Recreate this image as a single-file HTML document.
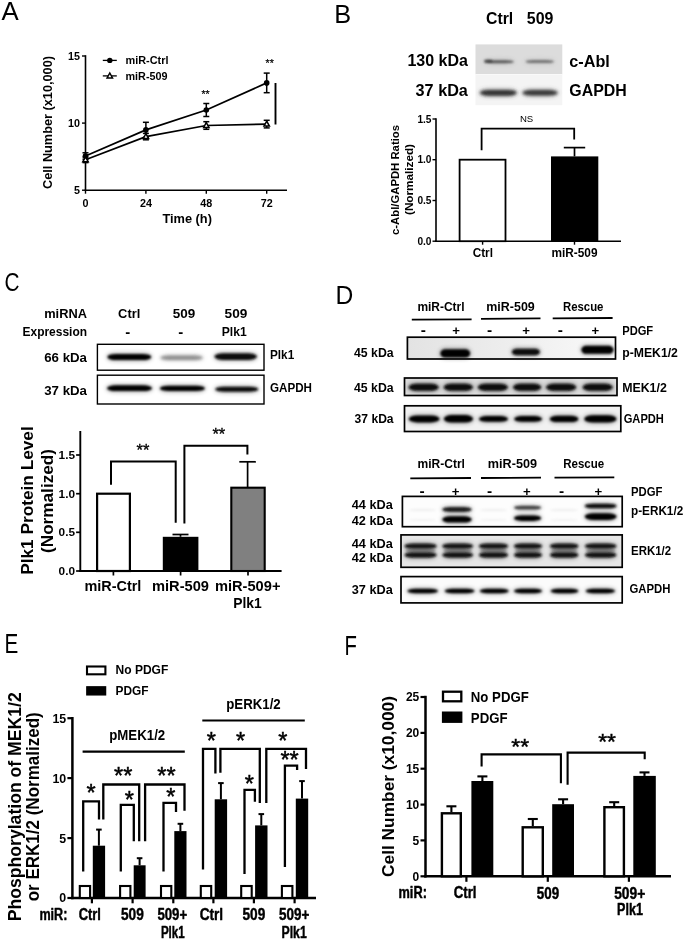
<!DOCTYPE html>
<html lang="en"><head><meta charset="utf-8"><title>Figure</title>
<style>
html,body{margin:0;padding:0;background:#fff;}
svg{display:block;font-family:"Liberation Sans",sans-serif;}
</style></head><body>
<svg width="685" height="939" viewBox="0 0 685 939">
<defs>
<filter id="b1" x="-20%" y="-80%" width="140%" height="260%"><feGaussianBlur stdDeviation="1.1"/></filter>
<filter id="b2" x="-20%" y="-80%" width="140%" height="260%"><feGaussianBlur stdDeviation="1.6"/></filter>
<filter id="b3" x="-20%" y="-120%" width="140%" height="340%"><feGaussianBlur stdDeviation="2.2"/></filter>
<linearGradient id="gD1" x1="0" x2="1" y1="0" y2="0"><stop offset="0" stop-color="#e3e3e3"/><stop offset="0.55" stop-color="#efefef"/><stop offset="1" stop-color="#fafafa"/></linearGradient>
<filter id="b0" x="-20%" y="-80%" width="140%" height="260%"><feGaussianBlur stdDeviation="0.7"/></filter>
</defs>
<rect x="0" y="0" width="685" height="939" fill="#fff"/>

<text x="1.6" y="20.3" font-size="26.5" font-weight="normal" textLength="17.2" lengthAdjust="spacingAndGlyphs">A</text>
<text x="334.3" y="22.7" font-size="26.5" font-weight="normal" textLength="16.9" lengthAdjust="spacingAndGlyphs">B</text>
<text x="4.6" y="291.0" font-size="25" font-weight="normal" textLength="15.0" lengthAdjust="spacingAndGlyphs">C</text>
<text x="335.6" y="303.8" font-size="25" font-weight="normal" textLength="17.8" lengthAdjust="spacingAndGlyphs">D</text>
<text x="4.4" y="653.4" font-size="27" font-weight="normal" textLength="13.8" lengthAdjust="spacingAndGlyphs">E</text>
<text x="344.6" y="654.8" font-size="27" font-weight="normal" textLength="12.4" lengthAdjust="spacingAndGlyphs">F</text>
<g id="panelA">
<line x1="85.5" y1="55.2" x2="85.5" y2="191.0" stroke="#000" stroke-width="1.6" stroke-linecap="butt"/>
<line x1="84.7" y1="190.2" x2="287.0" y2="190.2" stroke="#000" stroke-width="1.6" stroke-linecap="butt"/>
<line x1="82.0" y1="190.2" x2="85.5" y2="190.2" stroke="#000" stroke-width="1.4" stroke-linecap="butt"/>
<text x="80.0" y="193.9" text-anchor="end" font-size="10.76" font-weight="bold" fill="#000">5</text>
<line x1="82.0" y1="123.1" x2="85.5" y2="123.1" stroke="#000" stroke-width="1.4" stroke-linecap="butt"/>
<text x="80.0" y="126.8" text-anchor="end" font-size="10.76" font-weight="bold" fill="#000">10</text>
<line x1="82.0" y1="56.0" x2="85.5" y2="56.0" stroke="#000" stroke-width="1.4" stroke-linecap="butt"/>
<text x="80.0" y="59.7" text-anchor="end" font-size="10.76" font-weight="bold" fill="#000">15</text>
<line x1="85.5" y1="190.2" x2="85.5" y2="193.7" stroke="#000" stroke-width="1.4" stroke-linecap="butt"/>
<text x="85.5" y="206.7" text-anchor="middle" font-size="10.76" font-weight="bold" fill="#000">0</text>
<line x1="145.9" y1="190.2" x2="145.9" y2="193.7" stroke="#000" stroke-width="1.4" stroke-linecap="butt"/>
<text x="145.9" y="206.7" text-anchor="middle" font-size="10.76" font-weight="bold" fill="#000">24</text>
<line x1="206.3" y1="190.2" x2="206.3" y2="193.7" stroke="#000" stroke-width="1.4" stroke-linecap="butt"/>
<text x="206.3" y="206.7" text-anchor="middle" font-size="10.76" font-weight="bold" fill="#000">48</text>
<line x1="266.7" y1="190.2" x2="266.7" y2="193.7" stroke="#000" stroke-width="1.4" stroke-linecap="butt"/>
<text x="266.7" y="206.7" text-anchor="middle" font-size="10.76" font-weight="bold" fill="#000">72</text>
<text x="187.2" y="223.1" text-anchor="middle" font-size="13.06" font-weight="bold" fill="#000" textLength="49.5" lengthAdjust="spacingAndGlyphs">Time (h)</text>
<text transform="translate(52.0 122.5) rotate(-90)" text-anchor="middle" font-size="13.06" font-weight="bold" fill="#000" textLength="133.0" lengthAdjust="spacingAndGlyphs">Cell Number (x10,000)</text>
<polyline points="85.5,156.0 145.9,129.9 206.3,110.0 266.7,82.9" fill="none" stroke="#000" stroke-width="1.7" stroke-linejoin="miter"/>
<polyline points="85.5,159.8 145.9,136.6 206.3,125.5 266.7,124.1" fill="none" stroke="#000" stroke-width="1.7" stroke-linejoin="miter"/>
<line x1="85.5" y1="159.2" x2="85.5" y2="152.8" stroke="#000" stroke-width="1.5" stroke-linecap="butt"/>
<line x1="82.5" y1="152.8" x2="88.5" y2="152.8" stroke="#000" stroke-width="1.5" stroke-linecap="butt"/>
<line x1="82.5" y1="159.2" x2="88.5" y2="159.2" stroke="#000" stroke-width="1.5" stroke-linecap="butt"/>
<line x1="145.9" y1="137.5" x2="145.9" y2="122.3" stroke="#000" stroke-width="1.5" stroke-linecap="butt"/>
<line x1="142.9" y1="122.3" x2="148.9" y2="122.3" stroke="#000" stroke-width="1.5" stroke-linecap="butt"/>
<line x1="142.9" y1="137.5" x2="148.9" y2="137.5" stroke="#000" stroke-width="1.5" stroke-linecap="butt"/>
<line x1="206.3" y1="116.5" x2="206.3" y2="103.5" stroke="#000" stroke-width="1.5" stroke-linecap="butt"/>
<line x1="203.3" y1="103.5" x2="209.3" y2="103.5" stroke="#000" stroke-width="1.5" stroke-linecap="butt"/>
<line x1="203.3" y1="116.5" x2="209.3" y2="116.5" stroke="#000" stroke-width="1.5" stroke-linecap="butt"/>
<line x1="266.7" y1="92.7" x2="266.7" y2="73.1" stroke="#000" stroke-width="1.5" stroke-linecap="butt"/>
<line x1="263.7" y1="73.1" x2="269.7" y2="73.1" stroke="#000" stroke-width="1.5" stroke-linecap="butt"/>
<line x1="263.7" y1="92.7" x2="269.7" y2="92.7" stroke="#000" stroke-width="1.5" stroke-linecap="butt"/>
<line x1="85.5" y1="162.6" x2="85.5" y2="157.0" stroke="#000" stroke-width="1.5" stroke-linecap="butt"/>
<line x1="82.5" y1="157.0" x2="88.5" y2="157.0" stroke="#000" stroke-width="1.5" stroke-linecap="butt"/>
<line x1="82.5" y1="162.6" x2="88.5" y2="162.6" stroke="#000" stroke-width="1.5" stroke-linecap="butt"/>
<line x1="145.9" y1="139.8" x2="145.9" y2="133.4" stroke="#000" stroke-width="1.5" stroke-linecap="butt"/>
<line x1="142.9" y1="133.4" x2="148.9" y2="133.4" stroke="#000" stroke-width="1.5" stroke-linecap="butt"/>
<line x1="142.9" y1="139.8" x2="148.9" y2="139.8" stroke="#000" stroke-width="1.5" stroke-linecap="butt"/>
<line x1="206.3" y1="129.3" x2="206.3" y2="121.7" stroke="#000" stroke-width="1.5" stroke-linecap="butt"/>
<line x1="203.3" y1="121.7" x2="209.3" y2="121.7" stroke="#000" stroke-width="1.5" stroke-linecap="butt"/>
<line x1="203.3" y1="129.3" x2="209.3" y2="129.3" stroke="#000" stroke-width="1.5" stroke-linecap="butt"/>
<line x1="266.7" y1="127.9" x2="266.7" y2="120.3" stroke="#000" stroke-width="1.5" stroke-linecap="butt"/>
<line x1="263.7" y1="120.3" x2="269.7" y2="120.3" stroke="#000" stroke-width="1.5" stroke-linecap="butt"/>
<line x1="263.7" y1="127.9" x2="269.7" y2="127.9" stroke="#000" stroke-width="1.5" stroke-linecap="butt"/>
<circle cx="85.5" cy="156.0" r="2.8" fill="#000"/>
<circle cx="145.9" cy="129.9" r="2.8" fill="#000"/>
<circle cx="206.3" cy="110.0" r="2.8" fill="#000"/>
<circle cx="266.7" cy="82.9" r="2.8" fill="#000"/>
<polygon points="85.5,156.9 88.2,161.8 82.8,161.8" fill="#fff" stroke="#000" stroke-width="1.5" stroke-linejoin="miter"/>
<polygon points="145.9,133.7 148.6,138.6 143.2,138.6" fill="#fff" stroke="#000" stroke-width="1.5" stroke-linejoin="miter"/>
<polygon points="206.3,122.6 209.0,127.5 203.6,127.5" fill="#fff" stroke="#000" stroke-width="1.5" stroke-linejoin="miter"/>
<polygon points="266.7,121.2 269.4,126.1 264.0,126.1" fill="#fff" stroke="#000" stroke-width="1.5" stroke-linejoin="miter"/>
<line x1="275.5" y1="83.0" x2="275.5" y2="124.5" stroke="#000" stroke-width="1.9" stroke-linecap="butt"/>
<text x="205.5" y="98.0" text-anchor="middle" font-size="10.5" font-weight="normal" stroke="#000" stroke-width="0.21">**</text>
<text x="269.7" y="67.4" text-anchor="middle" font-size="10.5" font-weight="normal" stroke="#000" stroke-width="0.21">**</text>
<line x1="102.8" y1="60.4" x2="116.8" y2="60.4" stroke="#000" stroke-width="1.3" stroke-linecap="butt"/>
<circle cx="109.8" cy="60.4" r="2.7" fill="#000"/>
<text x="125.5" y="64.3" text-anchor="start" font-size="11.29" font-weight="bold" fill="#000" textLength="43.0" lengthAdjust="spacingAndGlyphs">miR-Ctrl</text>
<line x1="102.8" y1="75.9" x2="116.8" y2="75.9" stroke="#000" stroke-width="1.3" stroke-linecap="butt"/>
<polygon points="109.8,73.0 112.5,77.9 107.1,77.9" fill="#fff" stroke="#000" stroke-width="1.5"/>
<text x="125.5" y="79.8" text-anchor="start" font-size="11.29" font-weight="bold" fill="#000" textLength="42.0" lengthAdjust="spacingAndGlyphs">miR-509</text>
</g>
<g id="panelB">
<text x="486.0" y="23.7" text-anchor="start" font-size="16.2" font-weight="bold" fill="#000" textLength="27.2" lengthAdjust="spacingAndGlyphs">Ctrl</text>
<text x="526.8" y="23.7" text-anchor="start" font-size="16.2" font-weight="bold" fill="#000" textLength="26.6" lengthAdjust="spacingAndGlyphs">509</text>
<text x="467.9" y="66.0" text-anchor="end" font-size="16.2" font-weight="bold" fill="#000" textLength="60.5" lengthAdjust="spacingAndGlyphs">130 kDa</text>
<text x="467.9" y="96.1" text-anchor="end" font-size="16.2" font-weight="bold" fill="#000" textLength="52.3" lengthAdjust="spacingAndGlyphs">37 kDa</text>
<text x="569.3" y="66.6" text-anchor="start" font-size="16.2" font-weight="bold" fill="#000" textLength="40.5" lengthAdjust="spacingAndGlyphs">c-Abl</text>
<text x="569.3" y="95.6" text-anchor="start" font-size="16.2" font-weight="bold" fill="#000" textLength="57.5" lengthAdjust="spacingAndGlyphs">GAPDH</text>
<rect x="475.5" y="44.4" width="86.8" height="29.8" fill="#dcdcdc" stroke="none" stroke-width="0"/>
<rect x="475.5" y="74.2" width="86.8" height="31.0" fill="#f4f4f4" stroke="none" stroke-width="0"/>
<line x1="475.5" y1="74.6" x2="562.3" y2="74.6" stroke="#fbfbfb" stroke-width="0.9" stroke-linecap="butt"/>
<rect x="483.4" y="58.8" width="31.6" height="5.8" rx="9.2" ry="2.9" fill="#4a4a4a" opacity="0.17" filter="url(#b3)"/>
<rect x="484.6" y="60.2" width="29.2" height="3.0" rx="8.2" ry="1.5" fill="#4a4a4a" opacity="0.85" filter="url(#b1)"/>
<rect x="484.0" y="59.4" width="8.5" height="3.2" rx="2.4" ry="1.6" fill="#222" opacity="0.6" filter="url(#b1)"/>
<rect x="524.3" y="58.7" width="30.9" height="5.8" rx="9.0" ry="2.9" fill="#666" opacity="0.17" filter="url(#b3)"/>
<rect x="525.5" y="60.1" width="28.5" height="3.0" rx="8.0" ry="1.5" fill="#666" opacity="0.85" filter="url(#b1)"/>
<rect x="478.8" y="88.5" width="39.1" height="8.6" rx="10.0" ry="4.3" fill="#2a2a2a" opacity="0.28" filter="url(#b3)"/>
<rect x="480.0" y="89.9" width="36.7" height="5.8" rx="9.0" ry="2.9" fill="#2a2a2a" opacity="0.95" filter="url(#b2)"/>
<rect x="521.3" y="88.7" width="37.5" height="8.2" rx="10.0" ry="4.1" fill="#333" opacity="0.28" filter="url(#b3)"/>
<rect x="522.5" y="90.1" width="35.1" height="5.4" rx="9.0" ry="2.7" fill="#333" opacity="0.95" filter="url(#b2)"/>
<line x1="436.0" y1="118.2" x2="436.0" y2="242.0" stroke="#000" stroke-width="1.6" stroke-linecap="butt"/>
<line x1="435.2" y1="241.2" x2="621.0" y2="241.2" stroke="#000" stroke-width="1.6" stroke-linecap="butt"/>
<line x1="432.5" y1="241.2" x2="436.0" y2="241.2" stroke="#000" stroke-width="1.4" stroke-linecap="butt"/>
<text x="431.5" y="244.7" text-anchor="end" font-size="10.14" font-weight="bold" fill="#000">0.0</text>
<line x1="432.5" y1="200.5" x2="436.0" y2="200.5" stroke="#000" stroke-width="1.4" stroke-linecap="butt"/>
<text x="431.5" y="204.0" text-anchor="end" font-size="10.14" font-weight="bold" fill="#000">0.5</text>
<line x1="432.5" y1="159.7" x2="436.0" y2="159.7" stroke="#000" stroke-width="1.4" stroke-linecap="butt"/>
<text x="431.5" y="163.2" text-anchor="end" font-size="10.14" font-weight="bold" fill="#000">1.0</text>
<line x1="432.5" y1="119.0" x2="436.0" y2="119.0" stroke="#000" stroke-width="1.4" stroke-linecap="butt"/>
<text x="431.5" y="122.5" text-anchor="end" font-size="10.14" font-weight="bold" fill="#000">1.5</text>
<rect x="459.6" y="159.7" width="45.9" height="81.5" fill="#fff" stroke="#000" stroke-width="1.8"/>
<rect x="551.0" y="156.4" width="47.3" height="84.8" fill="#000" stroke="none" stroke-width="0"/>
<line x1="574.5" y1="156.4" x2="574.5" y2="147.6" stroke="#000" stroke-width="1.7" stroke-linecap="butt"/>
<line x1="563.8" y1="147.6" x2="585.2" y2="147.6" stroke="#000" stroke-width="1.7" stroke-linecap="butt"/>
<line x1="482.6" y1="241.2" x2="482.6" y2="244.7" stroke="#000" stroke-width="1.4" stroke-linecap="butt"/>
<line x1="574.5" y1="241.2" x2="574.5" y2="244.7" stroke="#000" stroke-width="1.4" stroke-linecap="butt"/>
<polyline points="481.6,150.2 481.6,128.6 574.2,128.6 574.2,139.4" fill="none" stroke="#000" stroke-width="1.8" stroke-linejoin="miter"/>
<text x="526.6" y="122.3" text-anchor="middle" font-size="9.61" font-weight="normal" fill="#000">NS</text>
<text x="482.8" y="256.5" text-anchor="middle" font-size="12.02" font-weight="bold" fill="#000" textLength="20.3" lengthAdjust="spacingAndGlyphs">Ctrl</text>
<text x="574.5" y="256.5" text-anchor="middle" font-size="12.02" font-weight="bold" fill="#000" textLength="46.0" lengthAdjust="spacingAndGlyphs">miR-509</text>
<text transform="translate(399.3 180.0) rotate(-90)" text-anchor="middle" font-size="11.81" font-weight="bold" fill="#000" textLength="110.0" lengthAdjust="spacingAndGlyphs">c-Abl/GAPDH Ratios</text>
<text transform="translate(413.3 179.5) rotate(-90)" text-anchor="middle" font-size="11.81" font-weight="bold" fill="#000" textLength="71.0" lengthAdjust="spacingAndGlyphs">(Normalized)</text>
</g>
<g id="panelC">
<text x="87.0" y="317.5" text-anchor="end" font-size="12.85" font-weight="bold" fill="#000" textLength="42.8" lengthAdjust="spacingAndGlyphs">miRNA</text>
<text x="87.0" y="335.9" text-anchor="end" font-size="12.85" font-weight="bold" fill="#000" textLength="64.5" lengthAdjust="spacingAndGlyphs">Expression</text>
<text x="129.2" y="317.5" text-anchor="middle" font-size="12.85" font-weight="bold" fill="#000" textLength="22.2" lengthAdjust="spacingAndGlyphs">Ctrl</text>
<text x="184.0" y="317.5" text-anchor="middle" font-size="12.85" font-weight="bold" fill="#000" textLength="22.5" lengthAdjust="spacingAndGlyphs">509</text>
<text x="236.0" y="317.5" text-anchor="middle" font-size="12.85" font-weight="bold" fill="#000" textLength="22.8" lengthAdjust="spacingAndGlyphs">509</text>
<text x="127.8" y="336.8" text-anchor="middle" font-size="15" font-weight="bold">-</text>
<text x="180.8" y="336.8" text-anchor="middle" font-size="15" font-weight="bold">-</text>
<text x="234.2" y="336.0" text-anchor="middle" font-size="12.85" font-weight="bold" fill="#000" textLength="25.0" lengthAdjust="spacingAndGlyphs">Plk1</text>
<text x="87.0" y="361.9" text-anchor="end" font-size="12.85" font-weight="bold" fill="#000" textLength="42.8" lengthAdjust="spacingAndGlyphs">66 kDa</text>
<text x="87.0" y="394.9" text-anchor="end" font-size="12.85" font-weight="bold" fill="#000" textLength="42.8" lengthAdjust="spacingAndGlyphs">37 kDa</text>
<text x="270.0" y="359.4" text-anchor="start" font-size="12.85" font-weight="bold" fill="#000" textLength="24.2" lengthAdjust="spacingAndGlyphs">Plk1</text>
<text x="270.0" y="392.1" text-anchor="start" font-size="12.85" font-weight="bold" fill="#000" textLength="42.0" lengthAdjust="spacingAndGlyphs">GAPDH</text>
<rect x="97.4" y="344.3" width="166.6" height="25.9" fill="#fff" stroke="#000" stroke-width="1.4"/>
<rect x="97.4" y="375.2" width="166.6" height="28.8" fill="#fff" stroke="#000" stroke-width="1.4"/>
<rect x="106.2" y="352.5" width="46.2" height="9.0" rx="10.0" ry="4.5" fill="#000" opacity="0.28" filter="url(#b3)"/>
<rect x="107.4" y="353.9" width="43.8" height="6.2" rx="9.0" ry="3.1" fill="#000" opacity="1" filter="url(#b1)"/>
<rect x="159.3" y="354.1" width="44.7" height="7.2" rx="10.0" ry="3.6" fill="#888" opacity="0.27" filter="url(#b3)"/>
<rect x="160.5" y="355.5" width="42.3" height="4.4" rx="9.0" ry="2.2" fill="#888" opacity="0.95" filter="url(#b2)"/>
<rect x="213.3" y="351.9" width="44.7" height="9.4" rx="10.0" ry="4.7" fill="#111" opacity="0.28" filter="url(#b3)"/>
<rect x="214.5" y="353.3" width="42.3" height="6.6" rx="9.0" ry="3.3" fill="#111" opacity="1" filter="url(#b1)"/>
<rect x="105.8" y="383.9" width="47.4" height="8.6" rx="10.0" ry="4.3" fill="#000" opacity="0.28" filter="url(#b3)"/>
<rect x="107.0" y="385.3" width="45.0" height="5.8" rx="9.0" ry="2.9" fill="#000" opacity="1" filter="url(#b1)"/>
<rect x="158.8" y="384.3" width="47.2" height="8.2" rx="10.0" ry="4.1" fill="#000" opacity="0.28" filter="url(#b3)"/>
<rect x="160.0" y="385.7" width="44.8" height="5.4" rx="9.0" ry="2.7" fill="#000" opacity="1" filter="url(#b1)"/>
<rect x="214.1" y="385.4" width="45.3" height="7.8" rx="10.0" ry="3.9" fill="#111" opacity="0.28" filter="url(#b3)"/>
<rect x="215.3" y="386.8" width="42.9" height="5.0" rx="9.0" ry="2.5" fill="#111" opacity="1" filter="url(#b1)"/>
<line x1="80.3" y1="431.0" x2="80.3" y2="571.9" stroke="#000" stroke-width="1.9" stroke-linecap="butt"/>
<line x1="79.4" y1="571.0" x2="281.6" y2="571.0" stroke="#000" stroke-width="1.9" stroke-linecap="butt"/>
<line x1="76.1" y1="571.0" x2="80.3" y2="571.0" stroke="#000" stroke-width="1.7" stroke-linecap="butt"/>
<text x="75.0" y="575.1" text-anchor="end" font-size="11.81" font-weight="bold" fill="#000">0.0</text>
<line x1="76.1" y1="532.3" x2="80.3" y2="532.3" stroke="#000" stroke-width="1.7" stroke-linecap="butt"/>
<text x="75.0" y="536.4" text-anchor="end" font-size="11.81" font-weight="bold" fill="#000">0.5</text>
<line x1="76.1" y1="493.7" x2="80.3" y2="493.7" stroke="#000" stroke-width="1.7" stroke-linecap="butt"/>
<text x="75.0" y="497.7" text-anchor="end" font-size="11.81" font-weight="bold" fill="#000">1.0</text>
<line x1="76.1" y1="455.0" x2="80.3" y2="455.0" stroke="#000" stroke-width="1.7" stroke-linecap="butt"/>
<text x="75.0" y="459.1" text-anchor="end" font-size="11.81" font-weight="bold" fill="#000">1.5</text>
<rect x="97.1" y="493.7" width="32.8" height="77.3" fill="#fff" stroke="#000" stroke-width="2.2"/>
<rect x="162.8" y="536.8" width="35.6" height="34.2" fill="#000" stroke="none" stroke-width="0"/>
<line x1="180.5" y1="536.8" x2="180.5" y2="534.5" stroke="#000" stroke-width="1.7" stroke-linecap="butt"/>
<line x1="172.5" y1="534.5" x2="188.5" y2="534.5" stroke="#000" stroke-width="1.7" stroke-linecap="butt"/>
<rect x="231.3" y="487.7" width="33.4" height="83.3" fill="#808080" stroke="#000" stroke-width="2.1"/>
<line x1="247.6" y1="487.7" x2="247.6" y2="461.8" stroke="#000" stroke-width="1.7" stroke-linecap="butt"/>
<line x1="239.3" y1="461.8" x2="255.8" y2="461.8" stroke="#000" stroke-width="1.7" stroke-linecap="butt"/>
<line x1="113.4" y1="571.0" x2="113.4" y2="575.5" stroke="#000" stroke-width="1.7" stroke-linecap="butt"/>
<line x1="180.6" y1="571.0" x2="180.6" y2="575.5" stroke="#000" stroke-width="1.7" stroke-linecap="butt"/>
<line x1="248.0" y1="571.0" x2="248.0" y2="575.5" stroke="#000" stroke-width="1.7" stroke-linecap="butt"/>
<polyline points="111.0,484.8 111.0,461.5 175.7,461.5 175.7,522.8" fill="none" stroke="#000" stroke-width="2.0" stroke-linejoin="miter"/>
<polyline points="184.4,523.6 184.4,445.7 247.4,445.7 247.4,454.5" fill="none" stroke="#000" stroke-width="2.0" stroke-linejoin="miter"/>
<text x="143.0" y="456.3" text-anchor="middle" font-size="16.5" font-weight="normal" stroke="#000" stroke-width="0.33">**</text>
<text x="218.8" y="440.0" text-anchor="middle" font-size="16.5" font-weight="normal" stroke="#000" stroke-width="0.33">**</text>
<text x="112.9" y="590.6" text-anchor="middle" font-size="14.94" font-weight="bold" fill="#000" textLength="57.0" lengthAdjust="spacingAndGlyphs">miR-Ctrl</text>
<text x="180.5" y="590.6" text-anchor="middle" font-size="14.94" font-weight="bold" fill="#000" textLength="57.0" lengthAdjust="spacingAndGlyphs">miR-509</text>
<text x="247.7" y="590.6" text-anchor="middle" font-size="14.94" font-weight="bold" fill="#000" textLength="65.5" lengthAdjust="spacingAndGlyphs">miR-509+</text>
<text x="247.4" y="607.6" text-anchor="middle" font-size="14.94" font-weight="bold" fill="#000" textLength="28.5" lengthAdjust="spacingAndGlyphs">Plk1</text>
<text transform="translate(32.6 500.5) rotate(-90)" text-anchor="middle" font-size="16.72" font-weight="bold" fill="#000" textLength="148.5" lengthAdjust="spacingAndGlyphs">Plk1 Protein Level</text>
<text transform="translate(53.1 501.0) rotate(-90)" text-anchor="middle" font-size="16.72" font-weight="bold" fill="#000" textLength="104.0" lengthAdjust="spacingAndGlyphs">(Normalized)</text>
</g>
<g id="panelD">
<text x="441.0" y="311.4" text-anchor="middle" font-size="12.54" font-weight="bold" fill="#000" textLength="47.2" lengthAdjust="spacingAndGlyphs">miR-Ctrl</text>
<text x="510.5" y="311.4" text-anchor="middle" font-size="12.54" font-weight="bold" fill="#000" textLength="48.5" lengthAdjust="spacingAndGlyphs">miR-509</text>
<text x="583.2" y="311.4" text-anchor="middle" font-size="12.54" font-weight="bold" fill="#000" textLength="40.5" lengthAdjust="spacingAndGlyphs">Rescue</text>
<line x1="411.8" y1="319.6" x2="471.6" y2="319.3" stroke="#000" stroke-width="1.8" stroke-linecap="butt"/>
<line x1="481.0" y1="318.8" x2="540.5" y2="318.4" stroke="#000" stroke-width="1.8" stroke-linecap="butt"/>
<line x1="552.7" y1="318.3" x2="612.6" y2="318.0" stroke="#000" stroke-width="1.8" stroke-linecap="butt"/>
<text x="423.4" y="335.0" text-anchor="middle" font-size="15.5" font-weight="bold">-</text>
<text x="456.1" y="335.4" text-anchor="middle" font-size="13.2" font-weight="bold">+</text>
<text x="489.7" y="335.0" text-anchor="middle" font-size="15.5" font-weight="bold">-</text>
<text x="526.0" y="335.4" text-anchor="middle" font-size="13.2" font-weight="bold">+</text>
<text x="560.3" y="335.0" text-anchor="middle" font-size="15.5" font-weight="bold">-</text>
<text x="595.4" y="335.4" text-anchor="middle" font-size="13.2" font-weight="bold">+</text>
<text x="622.2" y="335.0" text-anchor="start" font-size="12.54" font-weight="bold" fill="#000" textLength="31.0" lengthAdjust="spacingAndGlyphs">PDGF</text>
<rect x="407.4" y="337.2" width="208.1" height="21.8" fill="url(#gD1)" stroke="#000" stroke-width="1.7"/>
<rect x="404.5" y="378.0" width="212.5" height="17.5" fill="#dcdcdc" stroke="#000" stroke-width="1.7"/>
<rect x="404.5" y="405.8" width="216.3" height="25.7" fill="#f1f1f1" stroke="#000" stroke-width="1.7"/>
<text x="393.6" y="356.6" text-anchor="end" font-size="12.54" font-weight="bold" fill="#000" textLength="39.6" lengthAdjust="spacingAndGlyphs">45 kDa</text>
<text x="393.6" y="392.0" text-anchor="end" font-size="12.54" font-weight="bold" fill="#000" textLength="39.6" lengthAdjust="spacingAndGlyphs">45 kDa</text>
<text x="393.6" y="423.2" text-anchor="end" font-size="12.54" font-weight="bold" fill="#000" textLength="39.0" lengthAdjust="spacingAndGlyphs">37 kDa</text>
<text x="622.2" y="356.6" text-anchor="start" font-size="12.54" font-weight="bold" fill="#000" textLength="55.7" lengthAdjust="spacingAndGlyphs">p-MEK1/2</text>
<text x="622.2" y="392.0" text-anchor="start" font-size="12.54" font-weight="bold" fill="#000" textLength="44.6" lengthAdjust="spacingAndGlyphs">MEK1/2</text>
<text x="623.7" y="422.6" text-anchor="start" font-size="12.54" font-weight="bold" fill="#000" textLength="40.2" lengthAdjust="spacingAndGlyphs">GAPDH</text>
<rect x="439.2" y="347.8" width="32.1" height="11.2" rx="6.0" ry="5.6" fill="#000" opacity="0.28" filter="url(#b3)"/>
<rect x="440.4" y="349.2" width="29.7" height="8.4" rx="5.0" ry="4.2" fill="#000" opacity="1" filter="url(#b1)"/>
<rect x="510.7" y="347.3" width="30.4" height="9.4" rx="6.0" ry="4.7" fill="#111" opacity="0.28" filter="url(#b3)"/>
<rect x="511.9" y="348.7" width="28.0" height="6.6" rx="5.0" ry="3.3" fill="#111" opacity="1" filter="url(#b1)"/>
<rect x="580.2" y="344.4" width="34.5" height="10.8" rx="6.0" ry="5.4" fill="#000" opacity="0.28" filter="url(#b3)"/>
<rect x="581.4" y="345.8" width="32.1" height="8.0" rx="5.0" ry="4.0" fill="#000" opacity="1" filter="url(#b1)"/>
<rect x="407.6" y="382.4" width="32.1" height="9.8" rx="9.3" ry="4.9" fill="#0a0a0a" opacity="0.35" filter="url(#b3)"/>
<rect x="408.8" y="383.8" width="29.7" height="7.0" rx="8.3" ry="3.5" fill="#0a0a0a" opacity="1" filter="url(#b1)"/>
<rect x="442.7" y="382.4" width="31.2" height="9.8" rx="9.1" ry="4.9" fill="#0a0a0a" opacity="0.35" filter="url(#b3)"/>
<rect x="443.9" y="383.8" width="28.8" height="7.0" rx="8.1" ry="3.5" fill="#0a0a0a" opacity="1" filter="url(#b1)"/>
<rect x="476.8" y="382.4" width="32.1" height="9.8" rx="9.3" ry="4.9" fill="#0a0a0a" opacity="0.35" filter="url(#b3)"/>
<rect x="478.0" y="383.8" width="29.7" height="7.0" rx="8.3" ry="3.5" fill="#0a0a0a" opacity="1" filter="url(#b1)"/>
<rect x="512.1" y="382.4" width="30.1" height="9.8" rx="8.8" ry="4.9" fill="#0a0a0a" opacity="0.35" filter="url(#b3)"/>
<rect x="513.3" y="383.8" width="27.7" height="7.0" rx="7.8" ry="3.5" fill="#0a0a0a" opacity="1" filter="url(#b1)"/>
<rect x="545.1" y="382.4" width="32.1" height="9.8" rx="9.3" ry="4.9" fill="#0a0a0a" opacity="0.35" filter="url(#b3)"/>
<rect x="546.3" y="383.8" width="29.7" height="7.0" rx="8.3" ry="3.5" fill="#0a0a0a" opacity="1" filter="url(#b1)"/>
<rect x="581.6" y="382.4" width="32.1" height="9.8" rx="9.3" ry="4.9" fill="#0a0a0a" opacity="0.35" filter="url(#b3)"/>
<rect x="582.8" y="383.8" width="29.7" height="7.0" rx="8.3" ry="3.5" fill="#0a0a0a" opacity="1" filter="url(#b1)"/>
<rect x="407.6" y="414.0" width="33.1" height="9.8" rx="9.6" ry="4.9" fill="#000" opacity="0.28" filter="url(#b3)"/>
<rect x="408.8" y="415.4" width="30.7" height="7.0" rx="8.6" ry="3.5" fill="#000" opacity="1" filter="url(#b1)"/>
<rect x="442.7" y="413.8" width="31.5" height="10.3" rx="9.1" ry="5.2" fill="#000" opacity="0.28" filter="url(#b3)"/>
<rect x="443.9" y="415.1" width="29.1" height="7.5" rx="8.1" ry="3.8" fill="#000" opacity="1" filter="url(#b1)"/>
<rect x="477.8" y="414.7" width="31.4" height="8.4" rx="9.1" ry="4.2" fill="#000" opacity="0.28" filter="url(#b3)"/>
<rect x="479.0" y="416.1" width="29.0" height="5.6" rx="8.1" ry="2.8" fill="#000" opacity="1" filter="url(#b1)"/>
<rect x="513.0" y="414.7" width="30.2" height="8.4" rx="8.8" ry="4.2" fill="#000" opacity="0.28" filter="url(#b3)"/>
<rect x="514.2" y="416.1" width="27.8" height="5.6" rx="7.8" ry="2.8" fill="#000" opacity="1" filter="url(#b1)"/>
<rect x="548.6" y="414.3" width="31.0" height="9.2" rx="9.0" ry="4.6" fill="#000" opacity="0.28" filter="url(#b3)"/>
<rect x="549.8" y="415.7" width="28.6" height="6.4" rx="8.0" ry="3.2" fill="#000" opacity="1" filter="url(#b1)"/>
<rect x="583.1" y="413.9" width="34.5" height="10.0" rx="10.0" ry="5.0" fill="#000" opacity="0.28" filter="url(#b3)"/>
<rect x="584.3" y="415.3" width="32.1" height="7.2" rx="9.0" ry="3.6" fill="#000" opacity="1" filter="url(#b1)"/>
<text x="441.2" y="468.2" text-anchor="middle" font-size="12.54" font-weight="bold" fill="#000" textLength="47.5" lengthAdjust="spacingAndGlyphs">miR-Ctrl</text>
<text x="512.4" y="468.2" text-anchor="middle" font-size="12.54" font-weight="bold" fill="#000" textLength="49.2" lengthAdjust="spacingAndGlyphs">miR-509</text>
<text x="583.7" y="468.2" text-anchor="middle" font-size="12.54" font-weight="bold" fill="#000" textLength="41.0" lengthAdjust="spacingAndGlyphs">Rescue</text>
<line x1="410.3" y1="478.4" x2="471.0" y2="478.0" stroke="#000" stroke-width="1.8" stroke-linecap="butt"/>
<line x1="481.0" y1="478.0" x2="541.0" y2="477.7" stroke="#000" stroke-width="1.8" stroke-linecap="butt"/>
<line x1="554.5" y1="477.6" x2="614.3" y2="477.3" stroke="#000" stroke-width="1.8" stroke-linecap="butt"/>
<text x="422.0" y="496.1" text-anchor="middle" font-size="15.5" font-weight="bold">-</text>
<text x="455.5" y="496.1" text-anchor="middle" font-size="13.2" font-weight="bold">+</text>
<text x="489.7" y="496.1" text-anchor="middle" font-size="15.5" font-weight="bold">-</text>
<text x="526.8" y="496.1" text-anchor="middle" font-size="13.2" font-weight="bold">+</text>
<text x="561.5" y="496.1" text-anchor="middle" font-size="15.5" font-weight="bold">-</text>
<text x="598.3" y="496.1" text-anchor="middle" font-size="13.2" font-weight="bold">+</text>
<text x="631.0" y="496.3" text-anchor="start" font-size="12.54" font-weight="bold" fill="#000" textLength="31.4" lengthAdjust="spacingAndGlyphs">PDGF</text>
<rect x="402.4" y="496.4" width="219.8" height="30.3" fill="#fdfdfd" stroke="#000" stroke-width="1.7"/>
<rect x="401.0" y="534.9" width="221.2" height="32.4" fill="#e6e6e6" stroke="#000" stroke-width="1.7"/>
<rect x="401.0" y="576.6" width="221.2" height="26.3" fill="#fbfbfb" stroke="#000" stroke-width="1.7"/>
<text x="392.8" y="509.1" text-anchor="end" font-size="12.54" font-weight="bold" fill="#000" textLength="41.0" lengthAdjust="spacingAndGlyphs">44 kDa</text>
<text x="392.8" y="525.2" text-anchor="end" font-size="12.54" font-weight="bold" fill="#000" textLength="41.0" lengthAdjust="spacingAndGlyphs">42 kDa</text>
<text x="392.8" y="547.9" text-anchor="end" font-size="12.54" font-weight="bold" fill="#000" textLength="41.0" lengthAdjust="spacingAndGlyphs">44 kDa</text>
<text x="392.8" y="562.0" text-anchor="end" font-size="12.54" font-weight="bold" fill="#000" textLength="41.0" lengthAdjust="spacingAndGlyphs">42 kDa</text>
<text x="392.8" y="593.8" text-anchor="end" font-size="12.54" font-weight="bold" fill="#000" textLength="41.0" lengthAdjust="spacingAndGlyphs">37 kDa</text>
<text x="631.0" y="515.3" text-anchor="start" font-size="12.54" font-weight="bold" fill="#000" textLength="52.2" lengthAdjust="spacingAndGlyphs">p-ERK1/2</text>
<text x="631.0" y="554.7" text-anchor="start" font-size="12.54" font-weight="bold" fill="#000" textLength="40.2" lengthAdjust="spacingAndGlyphs">ERK1/2</text>
<text x="629.5" y="593.2" text-anchor="start" font-size="12.54" font-weight="bold" fill="#000" textLength="41.0" lengthAdjust="spacingAndGlyphs">GAPDH</text>
<rect x="441.2" y="505.7" width="31.6" height="7.6" rx="9.2" ry="3.8" fill="#1a1a1a" opacity="0.27" filter="url(#b3)"/>
<rect x="442.4" y="507.1" width="29.2" height="4.8" rx="8.2" ry="2.4" fill="#1a1a1a" opacity="0.97" filter="url(#b1)"/>
<rect x="441.2" y="514.8" width="31.6" height="9.2" rx="9.2" ry="4.6" fill="#000" opacity="0.28" filter="url(#b3)"/>
<rect x="442.4" y="516.2" width="29.2" height="6.4" rx="8.2" ry="3.2" fill="#000" opacity="1" filter="url(#b1)"/>
<rect x="513.0" y="504.4" width="29.2" height="6.6" rx="8.5" ry="3.3" fill="#383838" opacity="0.26" filter="url(#b3)"/>
<rect x="514.2" y="505.8" width="26.8" height="3.8" rx="7.5" ry="1.9" fill="#383838" opacity="0.92" filter="url(#b1)"/>
<rect x="513.0" y="514.1" width="29.2" height="8.2" rx="8.5" ry="4.1" fill="#000" opacity="0.28" filter="url(#b3)"/>
<rect x="514.2" y="515.5" width="26.8" height="5.4" rx="7.5" ry="2.7" fill="#000" opacity="1" filter="url(#b1)"/>
<rect x="583.6" y="502.3" width="34.1" height="7.4" rx="9.9" ry="3.7" fill="#111" opacity="0.28" filter="url(#b3)"/>
<rect x="584.8" y="503.7" width="31.7" height="4.6" rx="8.9" ry="2.3" fill="#111" opacity="1" filter="url(#b1)"/>
<rect x="583.6" y="511.8" width="34.1" height="9.6" rx="9.9" ry="4.8" fill="#000" opacity="0.28" filter="url(#b3)"/>
<rect x="584.8" y="513.2" width="31.7" height="6.8" rx="8.9" ry="3.4" fill="#000" opacity="1" filter="url(#b1)"/>
<rect x="409.0" y="508.8" width="27.0" height="2.5" rx="7.6" ry="1.2" fill="#999" opacity="0.12" filter="url(#b1)"/>
<rect x="409.0" y="518.8" width="27.0" height="2.5" rx="7.6" ry="1.2" fill="#999" opacity="0.09" filter="url(#b1)"/>
<rect x="480.0" y="508.8" width="27.0" height="2.5" rx="7.6" ry="1.2" fill="#999" opacity="0.12" filter="url(#b1)"/>
<rect x="480.0" y="518.8" width="27.0" height="2.5" rx="7.6" ry="1.2" fill="#999" opacity="0.09" filter="url(#b1)"/>
<rect x="550.0" y="508.8" width="28.0" height="2.5" rx="7.8" ry="1.2" fill="#999" opacity="0.12" filter="url(#b1)"/>
<rect x="550.0" y="518.8" width="28.0" height="2.5" rx="7.8" ry="1.2" fill="#999" opacity="0.09" filter="url(#b1)"/>
<rect x="403.3" y="542.2" width="34.5" height="8.0" rx="10.0" ry="4.0" fill="#0c0c0c" opacity="0.27" filter="url(#b3)"/>
<rect x="404.5" y="543.6" width="32.1" height="5.2" rx="9.0" ry="2.6" fill="#0c0c0c" opacity="0.95" filter="url(#b1)"/>
<rect x="403.3" y="550.8" width="34.5" height="8.4" rx="10.0" ry="4.2" fill="#0a0a0a" opacity="0.27" filter="url(#b3)"/>
<rect x="404.5" y="552.2" width="32.1" height="5.6" rx="9.0" ry="2.8" fill="#0a0a0a" opacity="0.96" filter="url(#b1)"/>
<rect x="405.5" y="548.1" width="30.1" height="5.0" rx="8.4" ry="2.5" fill="#333" opacity="0.42" filter="url(#b1)"/>
<rect x="441.2" y="542.2" width="33.0" height="8.0" rx="9.6" ry="4.0" fill="#0c0c0c" opacity="0.27" filter="url(#b3)"/>
<rect x="442.4" y="543.6" width="30.6" height="5.2" rx="8.6" ry="2.6" fill="#0c0c0c" opacity="0.95" filter="url(#b1)"/>
<rect x="441.2" y="550.8" width="33.0" height="8.4" rx="9.6" ry="4.2" fill="#0a0a0a" opacity="0.27" filter="url(#b3)"/>
<rect x="442.4" y="552.2" width="30.6" height="5.6" rx="8.6" ry="2.8" fill="#0a0a0a" opacity="0.96" filter="url(#b1)"/>
<rect x="443.4" y="548.1" width="28.6" height="5.0" rx="8.0" ry="2.5" fill="#333" opacity="0.42" filter="url(#b1)"/>
<rect x="477.8" y="542.2" width="31.4" height="8.0" rx="9.1" ry="4.0" fill="#0c0c0c" opacity="0.27" filter="url(#b3)"/>
<rect x="479.0" y="543.6" width="29.0" height="5.2" rx="8.1" ry="2.6" fill="#0c0c0c" opacity="0.95" filter="url(#b1)"/>
<rect x="477.8" y="550.8" width="31.4" height="8.4" rx="9.1" ry="4.2" fill="#0a0a0a" opacity="0.27" filter="url(#b3)"/>
<rect x="479.0" y="552.2" width="29.0" height="5.6" rx="8.1" ry="2.8" fill="#0a0a0a" opacity="0.96" filter="url(#b1)"/>
<rect x="480.0" y="548.1" width="27.0" height="5.0" rx="7.6" ry="2.5" fill="#333" opacity="0.42" filter="url(#b1)"/>
<rect x="512.8" y="542.2" width="30.4" height="8.0" rx="8.8" ry="4.0" fill="#0c0c0c" opacity="0.27" filter="url(#b3)"/>
<rect x="514.0" y="543.6" width="28.0" height="5.2" rx="7.8" ry="2.6" fill="#0c0c0c" opacity="0.95" filter="url(#b1)"/>
<rect x="512.8" y="550.8" width="30.4" height="8.4" rx="8.8" ry="4.2" fill="#0a0a0a" opacity="0.27" filter="url(#b3)"/>
<rect x="514.0" y="552.2" width="28.0" height="5.6" rx="7.8" ry="2.8" fill="#0a0a0a" opacity="0.96" filter="url(#b1)"/>
<rect x="515.0" y="548.1" width="26.0" height="5.0" rx="7.3" ry="2.5" fill="#333" opacity="0.42" filter="url(#b1)"/>
<rect x="548.8" y="542.2" width="30.8" height="8.0" rx="9.0" ry="4.0" fill="#0c0c0c" opacity="0.27" filter="url(#b3)"/>
<rect x="550.0" y="543.6" width="28.4" height="5.2" rx="8.0" ry="2.6" fill="#0c0c0c" opacity="0.95" filter="url(#b1)"/>
<rect x="548.8" y="550.8" width="30.8" height="8.4" rx="9.0" ry="4.2" fill="#0a0a0a" opacity="0.27" filter="url(#b3)"/>
<rect x="550.0" y="552.2" width="28.4" height="5.6" rx="8.0" ry="2.8" fill="#0a0a0a" opacity="0.96" filter="url(#b1)"/>
<rect x="551.0" y="548.1" width="26.4" height="5.0" rx="7.4" ry="2.5" fill="#333" opacity="0.42" filter="url(#b1)"/>
<rect x="583.8" y="542.2" width="33.8" height="8.0" rx="9.8" ry="4.0" fill="#0c0c0c" opacity="0.27" filter="url(#b3)"/>
<rect x="585.0" y="543.6" width="31.4" height="5.2" rx="8.8" ry="2.6" fill="#0c0c0c" opacity="0.95" filter="url(#b1)"/>
<rect x="583.8" y="550.8" width="33.8" height="8.4" rx="9.8" ry="4.2" fill="#0a0a0a" opacity="0.27" filter="url(#b3)"/>
<rect x="585.0" y="552.2" width="31.4" height="5.6" rx="8.8" ry="2.8" fill="#0a0a0a" opacity="0.96" filter="url(#b1)"/>
<rect x="586.0" y="548.1" width="29.4" height="5.0" rx="8.2" ry="2.5" fill="#333" opacity="0.42" filter="url(#b1)"/>
<rect x="406.2" y="587.4" width="33.0" height="7.2" rx="9.6" ry="3.6" fill="#000" opacity="0.28" filter="url(#b3)"/>
<rect x="407.4" y="588.8" width="30.6" height="4.4" rx="8.6" ry="2.2" fill="#000" opacity="1" filter="url(#b1)"/>
<rect x="443.5" y="587.4" width="32.2" height="7.2" rx="9.3" ry="3.6" fill="#000" opacity="0.28" filter="url(#b3)"/>
<rect x="444.7" y="588.8" width="29.8" height="4.4" rx="8.3" ry="2.2" fill="#000" opacity="1" filter="url(#b1)"/>
<rect x="478.6" y="587.4" width="31.3" height="7.2" rx="9.1" ry="3.6" fill="#000" opacity="0.28" filter="url(#b3)"/>
<rect x="479.8" y="588.8" width="28.9" height="4.4" rx="8.1" ry="2.2" fill="#000" opacity="1" filter="url(#b1)"/>
<rect x="512.8" y="587.4" width="30.4" height="7.2" rx="8.8" ry="3.6" fill="#000" opacity="0.28" filter="url(#b3)"/>
<rect x="514.0" y="588.8" width="28.0" height="4.4" rx="7.8" ry="2.2" fill="#000" opacity="1" filter="url(#b1)"/>
<rect x="549.5" y="587.4" width="30.1" height="7.2" rx="8.8" ry="3.6" fill="#000" opacity="0.28" filter="url(#b3)"/>
<rect x="550.7" y="588.8" width="27.7" height="4.4" rx="7.8" ry="2.2" fill="#000" opacity="1" filter="url(#b1)"/>
<rect x="584.5" y="587.4" width="31.7" height="7.2" rx="9.2" ry="3.6" fill="#000" opacity="0.28" filter="url(#b3)"/>
<rect x="585.7" y="588.8" width="29.3" height="4.4" rx="8.2" ry="2.2" fill="#000" opacity="1" filter="url(#b1)"/>
</g>
<g id="panelE">
<rect x="87.0" y="666.5" width="18.4" height="7.8" fill="#fff" stroke="#000" stroke-width="2.1"/>
<rect x="86.9" y="686.9" width="18.6" height="7.9" fill="#000" stroke="#000" stroke-width="1.5"/>
<text x="115.5" y="674.3" text-anchor="start" font-size="12.96" font-weight="bold" fill="#000" textLength="52.8" lengthAdjust="spacingAndGlyphs">No PDGF</text>
<text x="115.5" y="695.1" text-anchor="start" font-size="12.96" font-weight="bold" fill="#000" textLength="33.0" lengthAdjust="spacingAndGlyphs">PDGF</text>
<line x1="72.4" y1="717.0" x2="72.4" y2="899.2" stroke="#000" stroke-width="2.5" stroke-linecap="butt"/>
<line x1="71.2" y1="898.0" x2="316.0" y2="898.0" stroke="#000" stroke-width="2.5" stroke-linecap="butt"/>
<line x1="67.4" y1="898.0" x2="72.4" y2="898.0" stroke="#000" stroke-width="2.2" stroke-linecap="butt"/>
<text x="66.2" y="902.4" text-anchor="end" font-size="13.38" font-weight="bold" fill="#000" textLength="6.9" lengthAdjust="spacingAndGlyphs">0</text>
<line x1="67.4" y1="838.1" x2="72.4" y2="838.1" stroke="#000" stroke-width="2.2" stroke-linecap="butt"/>
<text x="66.2" y="842.5" text-anchor="end" font-size="13.38" font-weight="bold" fill="#000" textLength="6.9" lengthAdjust="spacingAndGlyphs">5</text>
<line x1="67.4" y1="778.1" x2="72.4" y2="778.1" stroke="#000" stroke-width="2.2" stroke-linecap="butt"/>
<text x="66.2" y="782.5" text-anchor="end" font-size="13.38" font-weight="bold" fill="#000" textLength="13.8" lengthAdjust="spacingAndGlyphs">10</text>
<line x1="67.4" y1="718.2" x2="72.4" y2="718.2" stroke="#000" stroke-width="2.2" stroke-linecap="butt"/>
<text x="66.2" y="722.6" text-anchor="end" font-size="13.38" font-weight="bold" fill="#000" textLength="13.8" lengthAdjust="spacingAndGlyphs">15</text>
<text x="137.2" y="739.9" text-anchor="middle" font-size="14.63" font-weight="bold" fill="#000" textLength="56.0" lengthAdjust="spacingAndGlyphs">pMEK1/2</text>
<line x1="82.6" y1="751.6" x2="184.8" y2="751.6" stroke="#000" stroke-width="2.2" stroke-linecap="butt"/>
<text x="253.5" y="709.4" text-anchor="middle" font-size="14.63" font-weight="bold" fill="#000" textLength="54.5" lengthAdjust="spacingAndGlyphs">pERK1/2</text>
<line x1="202.3" y1="720.5" x2="304.8" y2="720.5" stroke="#000" stroke-width="2.2" stroke-linecap="butt"/>
<rect x="79.8" y="886.0" width="10.3" height="12.0" fill="#fff" stroke="#000" stroke-width="2.1"/>
<rect x="92.8" y="845.7" width="12.3" height="52.3" fill="#000" stroke="none" stroke-width="0"/>
<line x1="98.9" y1="845.7" x2="98.9" y2="829.6" stroke="#000" stroke-width="2.0" stroke-linecap="butt"/>
<line x1="96.1" y1="829.6" x2="101.7" y2="829.6" stroke="#000" stroke-width="2.0" stroke-linecap="butt"/>
<line x1="91.9" y1="898.0" x2="91.9" y2="903.3" stroke="#000" stroke-width="2.2" stroke-linecap="butt"/>
<rect x="120.1" y="886.0" width="10.3" height="12.0" fill="#fff" stroke="#000" stroke-width="2.1"/>
<rect x="133.7" y="865.3" width="11.9" height="32.7" fill="#000" stroke="none" stroke-width="0"/>
<line x1="139.6" y1="865.3" x2="139.6" y2="858.2" stroke="#000" stroke-width="2.0" stroke-linecap="butt"/>
<line x1="136.8" y1="858.2" x2="142.4" y2="858.2" stroke="#000" stroke-width="2.0" stroke-linecap="butt"/>
<line x1="132.6" y1="898.0" x2="132.6" y2="903.3" stroke="#000" stroke-width="2.2" stroke-linecap="butt"/>
<rect x="161.0" y="886.0" width="10.3" height="12.0" fill="#fff" stroke="#000" stroke-width="2.1"/>
<rect x="174.3" y="831.1" width="12.2" height="66.9" fill="#000" stroke="none" stroke-width="0"/>
<line x1="180.4" y1="831.1" x2="180.4" y2="823.8" stroke="#000" stroke-width="2.0" stroke-linecap="butt"/>
<line x1="177.6" y1="823.8" x2="183.2" y2="823.8" stroke="#000" stroke-width="2.0" stroke-linecap="butt"/>
<line x1="173.3" y1="898.0" x2="173.3" y2="903.3" stroke="#000" stroke-width="2.2" stroke-linecap="butt"/>
<rect x="200.8" y="886.0" width="10.4" height="12.0" fill="#fff" stroke="#000" stroke-width="2.1"/>
<rect x="214.7" y="799.3" width="12.4" height="98.7" fill="#000" stroke="none" stroke-width="0"/>
<line x1="220.9" y1="799.3" x2="220.9" y2="783.1" stroke="#000" stroke-width="2.0" stroke-linecap="butt"/>
<line x1="218.1" y1="783.1" x2="223.7" y2="783.1" stroke="#000" stroke-width="2.0" stroke-linecap="butt"/>
<line x1="213.4" y1="898.0" x2="213.4" y2="903.3" stroke="#000" stroke-width="2.2" stroke-linecap="butt"/>
<rect x="241.2" y="886.0" width="10.5" height="12.0" fill="#fff" stroke="#000" stroke-width="2.1"/>
<rect x="255.1" y="825.4" width="12.4" height="72.6" fill="#000" stroke="none" stroke-width="0"/>
<line x1="261.3" y1="825.4" x2="261.3" y2="814.1" stroke="#000" stroke-width="2.0" stroke-linecap="butt"/>
<line x1="258.5" y1="814.1" x2="264.1" y2="814.1" stroke="#000" stroke-width="2.0" stroke-linecap="butt"/>
<line x1="253.9" y1="898.0" x2="253.9" y2="903.3" stroke="#000" stroke-width="2.2" stroke-linecap="butt"/>
<rect x="281.9" y="886.0" width="10.5" height="12.0" fill="#fff" stroke="#000" stroke-width="2.1"/>
<rect x="295.8" y="798.6" width="12.4" height="99.4" fill="#000" stroke="none" stroke-width="0"/>
<line x1="302.0" y1="798.6" x2="302.0" y2="781.1" stroke="#000" stroke-width="2.0" stroke-linecap="butt"/>
<line x1="299.2" y1="781.1" x2="304.8" y2="781.1" stroke="#000" stroke-width="2.0" stroke-linecap="butt"/>
<line x1="294.6" y1="898.0" x2="294.6" y2="903.3" stroke="#000" stroke-width="2.2" stroke-linecap="butt"/>
<polyline points="83.2,871.4 83.2,801.3 99.0,801.3 99.0,819.4" fill="none" stroke="#000" stroke-width="2.3" stroke-linejoin="miter"/>
<polyline points="103.3,819.4 103.3,784.5 139.2,784.5 139.2,841.3" fill="none" stroke="#000" stroke-width="2.3" stroke-linejoin="miter"/>
<polyline points="120.8,871.4 120.8,804.8 133.8,804.8 133.8,841.3" fill="none" stroke="#000" stroke-width="2.3" stroke-linejoin="miter"/>
<polyline points="145.1,841.3 145.1,784.5 184.5,784.5 184.5,810.7" fill="none" stroke="#000" stroke-width="2.3" stroke-linejoin="miter"/>
<polyline points="163.5,871.4 163.5,802.8 176.0,802.8 176.0,812.0" fill="none" stroke="#000" stroke-width="2.3" stroke-linejoin="miter"/>
<polyline points="203.0,869.4 203.0,748.8 215.4,748.8 215.4,773.6" fill="none" stroke="#000" stroke-width="2.3" stroke-linejoin="miter"/>
<polyline points="220.4,772.7 220.4,748.8 259.8,748.8 259.8,802.9" fill="none" stroke="#000" stroke-width="2.3" stroke-linejoin="miter"/>
<polyline points="266.3,802.9 266.3,748.8 306.0,748.8 306.0,768.9" fill="none" stroke="#000" stroke-width="2.3" stroke-linejoin="miter"/>
<polyline points="244.5,873.9 244.5,789.8 254.9,789.8 254.9,801.7" fill="none" stroke="#000" stroke-width="2.3" stroke-linejoin="miter"/>
<polyline points="284.9,866.9 284.9,765.7 297.1,765.7 297.1,769.9" fill="none" stroke="#000" stroke-width="2.3" stroke-linejoin="miter"/>
<text x="123.2" y="784.2" text-anchor="middle" font-size="23.5" font-weight="normal" stroke="#000" stroke-width="0.47">**</text>
<text x="166.4" y="784.2" text-anchor="middle" font-size="23.5" font-weight="normal" stroke="#000" stroke-width="0.47">**</text>
<text x="91.1" y="801.3" text-anchor="middle" font-size="23.5" font-weight="normal" stroke="#000" stroke-width="0.47">*</text>
<text x="129.3" y="807.8" text-anchor="middle" font-size="23.5" font-weight="normal" stroke="#000" stroke-width="0.47">*</text>
<text x="170.8" y="804.8" text-anchor="middle" font-size="23.5" font-weight="normal" stroke="#000" stroke-width="0.47">*</text>
<text x="211.4" y="749.0" text-anchor="middle" font-size="23.5" font-weight="normal" stroke="#000" stroke-width="0.47">*</text>
<text x="240.7" y="749.0" text-anchor="middle" font-size="23.5" font-weight="normal" stroke="#000" stroke-width="0.47">*</text>
<text x="282.9" y="749.0" text-anchor="middle" font-size="23.5" font-weight="normal" stroke="#000" stroke-width="0.47">*</text>
<text x="249.4" y="791.6" text-anchor="middle" font-size="23.5" font-weight="normal" stroke="#000" stroke-width="0.47">*</text>
<text x="289.6" y="768.4" text-anchor="middle" font-size="23.5" font-weight="normal" stroke="#000" stroke-width="0.47">**</text>
<text x="39.4" y="920.0" text-anchor="start" font-size="16.62" font-weight="bold" fill="#000" textLength="28.0" lengthAdjust="spacingAndGlyphs" stroke="#000" stroke-width="0.45" stroke-linejoin="round">miR:</text>
<text x="89.8" y="920.0" text-anchor="middle" font-size="16.62" font-weight="bold" fill="#000" textLength="22.3" lengthAdjust="spacingAndGlyphs" stroke="#000" stroke-width="0.45" stroke-linejoin="round">Ctrl</text>
<text x="132.4" y="920.0" text-anchor="middle" font-size="16.62" font-weight="bold" fill="#000" textLength="22.8" lengthAdjust="spacingAndGlyphs" stroke="#000" stroke-width="0.45" stroke-linejoin="round">509</text>
<text x="172.3" y="920.0" text-anchor="middle" font-size="16.62" font-weight="bold" fill="#000" textLength="29.8" lengthAdjust="spacingAndGlyphs" stroke="#000" stroke-width="0.45" stroke-linejoin="round">509+</text>
<text x="172.8" y="937.5" text-anchor="middle" font-size="16.62" font-weight="bold" fill="#000" textLength="23.8" lengthAdjust="spacingAndGlyphs" stroke="#000" stroke-width="0.45" stroke-linejoin="round">Plk1</text>
<text x="211.4" y="920.0" text-anchor="middle" font-size="16.62" font-weight="bold" fill="#000" textLength="23.5" lengthAdjust="spacingAndGlyphs" stroke="#000" stroke-width="0.45" stroke-linejoin="round">Ctrl</text>
<text x="253.9" y="920.0" text-anchor="middle" font-size="16.62" font-weight="bold" fill="#000" textLength="22.8" lengthAdjust="spacingAndGlyphs" stroke="#000" stroke-width="0.45" stroke-linejoin="round">509</text>
<text x="294.1" y="920.0" text-anchor="middle" font-size="16.62" font-weight="bold" fill="#000" textLength="30.3" lengthAdjust="spacingAndGlyphs" stroke="#000" stroke-width="0.45" stroke-linejoin="round">509+</text>
<text x="294.1" y="937.5" text-anchor="middle" font-size="16.62" font-weight="bold" fill="#000" textLength="25.2" lengthAdjust="spacingAndGlyphs" stroke="#000" stroke-width="0.45" stroke-linejoin="round">Plk1</text>
<text transform="translate(20.8 806.8) rotate(-90)" text-anchor="middle" font-size="17.45" font-weight="bold" fill="#000" textLength="229.0" lengthAdjust="spacingAndGlyphs">Phosphorylation of MEK1/2</text>
<text transform="translate(39.4 806.8) rotate(-90)" text-anchor="middle" font-size="17.45" font-weight="bold" fill="#000" textLength="189.0" lengthAdjust="spacingAndGlyphs">or ERK1/2 (Normalized)</text>
</g>
<g id="panelF">
<line x1="425.5" y1="695.8" x2="425.5" y2="877.5" stroke="#000" stroke-width="2.5" stroke-linecap="butt"/>
<line x1="424.3" y1="876.3" x2="671.0" y2="876.3" stroke="#000" stroke-width="2.5" stroke-linecap="butt"/>
<line x1="420.5" y1="876.3" x2="425.5" y2="876.3" stroke="#000" stroke-width="2.2" stroke-linecap="butt"/>
<text x="419.3" y="880.5" text-anchor="end" font-size="13.27" font-weight="bold" fill="#000" textLength="6.7" lengthAdjust="spacingAndGlyphs">0</text>
<line x1="420.5" y1="840.4" x2="425.5" y2="840.4" stroke="#000" stroke-width="2.2" stroke-linecap="butt"/>
<text x="419.3" y="844.6" text-anchor="end" font-size="13.27" font-weight="bold" fill="#000" textLength="6.7" lengthAdjust="spacingAndGlyphs">5</text>
<line x1="420.5" y1="804.6" x2="425.5" y2="804.6" stroke="#000" stroke-width="2.2" stroke-linecap="butt"/>
<text x="419.3" y="808.7" text-anchor="end" font-size="13.27" font-weight="bold" fill="#000" textLength="13.4" lengthAdjust="spacingAndGlyphs">10</text>
<line x1="420.5" y1="768.7" x2="425.5" y2="768.7" stroke="#000" stroke-width="2.2" stroke-linecap="butt"/>
<text x="419.3" y="772.9" text-anchor="end" font-size="13.27" font-weight="bold" fill="#000" textLength="13.4" lengthAdjust="spacingAndGlyphs">15</text>
<line x1="420.5" y1="732.9" x2="425.5" y2="732.9" stroke="#000" stroke-width="2.2" stroke-linecap="butt"/>
<text x="419.3" y="737.0" text-anchor="end" font-size="13.27" font-weight="bold" fill="#000" textLength="13.4" lengthAdjust="spacingAndGlyphs">20</text>
<line x1="420.5" y1="697.0" x2="425.5" y2="697.0" stroke="#000" stroke-width="2.2" stroke-linecap="butt"/>
<text x="419.3" y="701.2" text-anchor="end" font-size="13.27" font-weight="bold" fill="#000" textLength="13.4" lengthAdjust="spacingAndGlyphs">25</text>
<rect x="443.0" y="691.7" width="18.3" height="9.6" fill="#fff" stroke="#000" stroke-width="2.3"/>
<rect x="441.9" y="711.5" width="20.5" height="11.4" fill="#000" stroke="none" stroke-width="0"/>
<text x="470.8" y="701.8" text-anchor="start" font-size="15.05" font-weight="bold" fill="#000" textLength="58.0" lengthAdjust="spacingAndGlyphs">No PDGF</text>
<text x="470.8" y="722.7" text-anchor="start" font-size="15.05" font-weight="bold" fill="#000" textLength="36.8" lengthAdjust="spacingAndGlyphs">PDGF</text>
<rect x="441.9" y="813.3" width="18.9" height="63.0" fill="#fff" stroke="#000" stroke-width="2.4"/>
<line x1="451.4" y1="812.1" x2="451.4" y2="806.3" stroke="#000" stroke-width="2.1" stroke-linecap="butt"/>
<line x1="446.4" y1="806.3" x2="456.4" y2="806.3" stroke="#000" stroke-width="2.1" stroke-linecap="butt"/>
<rect x="471.4" y="781.0" width="21.9" height="95.3" fill="#000" stroke="none" stroke-width="0"/>
<line x1="482.4" y1="781.0" x2="482.4" y2="776.4" stroke="#000" stroke-width="2.1" stroke-linecap="butt"/>
<line x1="477.4" y1="776.4" x2="487.4" y2="776.4" stroke="#000" stroke-width="2.1" stroke-linecap="butt"/>
<rect x="522.7" y="827.3" width="20.1" height="49.0" fill="#fff" stroke="#000" stroke-width="2.4"/>
<line x1="532.8" y1="826.1" x2="532.8" y2="819.0" stroke="#000" stroke-width="2.1" stroke-linecap="butt"/>
<line x1="527.8" y1="819.0" x2="537.8" y2="819.0" stroke="#000" stroke-width="2.1" stroke-linecap="butt"/>
<rect x="552.2" y="804.2" width="21.8" height="72.1" fill="#000" stroke="none" stroke-width="0"/>
<line x1="563.1" y1="804.2" x2="563.1" y2="799.3" stroke="#000" stroke-width="2.1" stroke-linecap="butt"/>
<line x1="558.1" y1="799.3" x2="568.1" y2="799.3" stroke="#000" stroke-width="2.1" stroke-linecap="butt"/>
<rect x="604.4" y="807.2" width="19.5" height="69.1" fill="#fff" stroke="#000" stroke-width="2.4"/>
<line x1="614.2" y1="806.0" x2="614.2" y2="802.2" stroke="#000" stroke-width="2.1" stroke-linecap="butt"/>
<line x1="609.2" y1="802.2" x2="619.2" y2="802.2" stroke="#000" stroke-width="2.1" stroke-linecap="butt"/>
<rect x="633.3" y="775.9" width="22.5" height="100.4" fill="#000" stroke="none" stroke-width="0"/>
<line x1="644.5" y1="775.9" x2="644.5" y2="772.4" stroke="#000" stroke-width="2.1" stroke-linecap="butt"/>
<line x1="639.5" y1="772.4" x2="649.5" y2="772.4" stroke="#000" stroke-width="2.1" stroke-linecap="butt"/>
<line x1="466.4" y1="876.3" x2="466.4" y2="881.8" stroke="#000" stroke-width="2.2" stroke-linecap="butt"/>
<line x1="547.8" y1="876.3" x2="547.8" y2="881.8" stroke="#000" stroke-width="2.2" stroke-linecap="butt"/>
<line x1="628.9" y1="876.3" x2="628.9" y2="881.8" stroke="#000" stroke-width="2.2" stroke-linecap="butt"/>
<polyline points="481.6,766.4 481.6,754.4 560.9,754.4 560.9,783.2" fill="none" stroke="#000" stroke-width="2.1" stroke-linejoin="miter"/>
<polyline points="567.6,784.7 567.6,752.6 644.7,752.6 644.7,759.3" fill="none" stroke="#000" stroke-width="2.1" stroke-linejoin="miter"/>
<text x="520.2" y="754.4" text-anchor="middle" font-size="22.8" font-weight="normal" stroke="#000" stroke-width="0.46">**</text>
<text x="607.0" y="749.1" text-anchor="middle" font-size="22.8" font-weight="normal" stroke="#000" stroke-width="0.46">**</text>
<text x="398.5" y="897.9" text-anchor="start" font-size="15.99" font-weight="bold" fill="#000" textLength="28.4" lengthAdjust="spacingAndGlyphs" stroke="#000" stroke-width="0.45" stroke-linejoin="round">miR:</text>
<text x="465.1" y="897.8" text-anchor="middle" font-size="15.67" font-weight="bold" fill="#000" textLength="22.8" lengthAdjust="spacingAndGlyphs" stroke="#000" stroke-width="0.45" stroke-linejoin="round">Ctrl</text>
<text x="548.0" y="898.7" text-anchor="middle" font-size="15.67" font-weight="bold" fill="#000" textLength="22.3" lengthAdjust="spacingAndGlyphs" stroke="#000" stroke-width="0.45" stroke-linejoin="round">509</text>
<text x="629.7" y="898.7" text-anchor="middle" font-size="15.67" font-weight="bold" fill="#000" textLength="31.0" lengthAdjust="spacingAndGlyphs" stroke="#000" stroke-width="0.45" stroke-linejoin="round">509+</text>
<text x="630.0" y="915.3" text-anchor="middle" font-size="15.67" font-weight="bold" fill="#000" textLength="25.8" lengthAdjust="spacingAndGlyphs" stroke="#000" stroke-width="0.45" stroke-linejoin="round">Plk1</text>
<text transform="translate(393.6 786.5) rotate(-90)" text-anchor="middle" font-size="16.41" font-weight="bold" fill="#000" textLength="181.0" lengthAdjust="spacingAndGlyphs">Cell Number (x10,000)</text>
</g>
</svg></body></html>
